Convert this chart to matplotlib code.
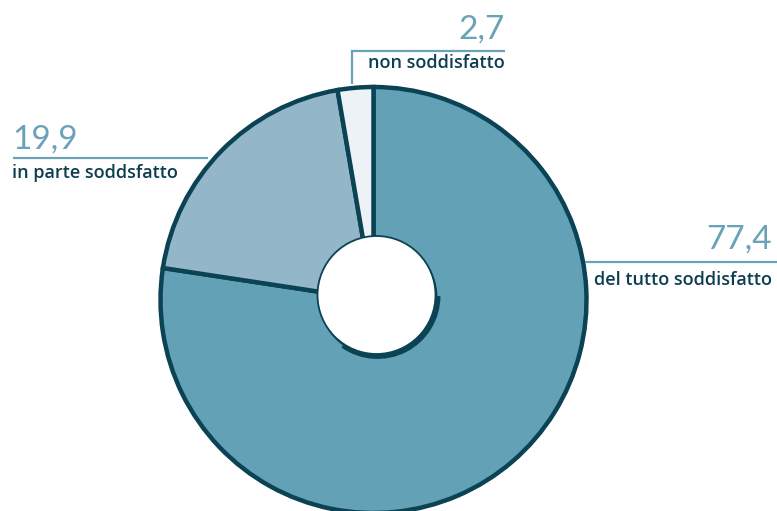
import matplotlib
matplotlib.use("Agg")
import matplotlib.pyplot as plt
from matplotlib.patches import Circle, Arc

labels = ["del tutto soddisfatto", "in parte soddsfatto", "non soddisfatto"]
values = [77.4, 19.9, 2.7]
value_text = ["77,4", "19,9", "2,7"]
colors = ["#62a1b6", "#93b6c8", "#edf2f6"]

edge = "#0b4254"
num_col = "#6aa3b8"
line_col = "#6aa3b8"
txt_col = "#0d3d4f"

W, H = 777, 511
fig = plt.figure(figsize=(W / 100, H / 100), dpi=100)
ax = fig.add_axes([0, 0, 1, 1])

cx, cy, R = 373.5, H - 300, 213
ax.pie(values, colors=colors, startangle=90, counterclock=False,
       center=(cx, cy), radius=R,
       wedgeprops=dict(edgecolor=edge, linewidth=3.2))

# hole with shadow
hx, hy, hr = 376.5, H - 295, 59
ax.add_patch(Circle((hx + 1.5, hy - 2.5), hr + 0.5, facecolor=edge,
                    edgecolor="none", zorder=4))
ax.add_patch(Arc((hx + 1, hy - 1), 2 * hr + 3, 2 * hr + 3, theta1=235, theta2=360,
                 color=edge, linewidth=3.5, zorder=4))
ax.add_patch(Circle((hx, hy), hr, facecolor="white", edgecolor=edge,
                    linewidth=1.3, zorder=5))

ax.set_xlim(0, W)
ax.set_ylim(0, H)
ax.set_aspect("equal")
ax.axis("off")

nfam = ["Lato", "DejaVu Sans"]
tfam = ["Open Sans", "DejaVu Sans"]
tsize = 13
# 77,4
ax.plot([585, 777], [H - 262, H - 262], color=line_col, lw=1.6, solid_capstyle="butt")
ax.text(772, H - 249, value_text[0], ha="right", va="baseline", fontsize=24,
        color=num_col, family=nfam)
ax.text(594, H - 280, labels[0], ha="left", va="center", fontsize=tsize,
        color=txt_col, family=tfam, fontweight="semibold")
# 19,9
ax.plot([13, 208], [H - 158, H - 158], color=line_col, lw=1.6, solid_capstyle="butt")
ax.text(12, H - 149, value_text[1], ha="left", va="baseline", fontsize=24,
        color=num_col, family=nfam)
ax.text(12, H - 173, labels[1], ha="left", va="center", fontsize=tsize,
        color=txt_col, family=tfam, fontweight="semibold")
# 2,7
ax.plot([352, 352, 505], [H - 84, H - 51, H - 51], color=line_col, lw=1.6,
        solid_capstyle="butt", solid_joinstyle="miter")
ax.text(505, H - 39, value_text[2], ha="right", va="baseline", fontsize=24,
        color=num_col, family=nfam)
ax.text(505, H - 63, labels[2], ha="right", va="center", fontsize=tsize,
        color=txt_col, family=tfam, fontweight="semibold")

fig.savefig("out.png", dpi=100)
